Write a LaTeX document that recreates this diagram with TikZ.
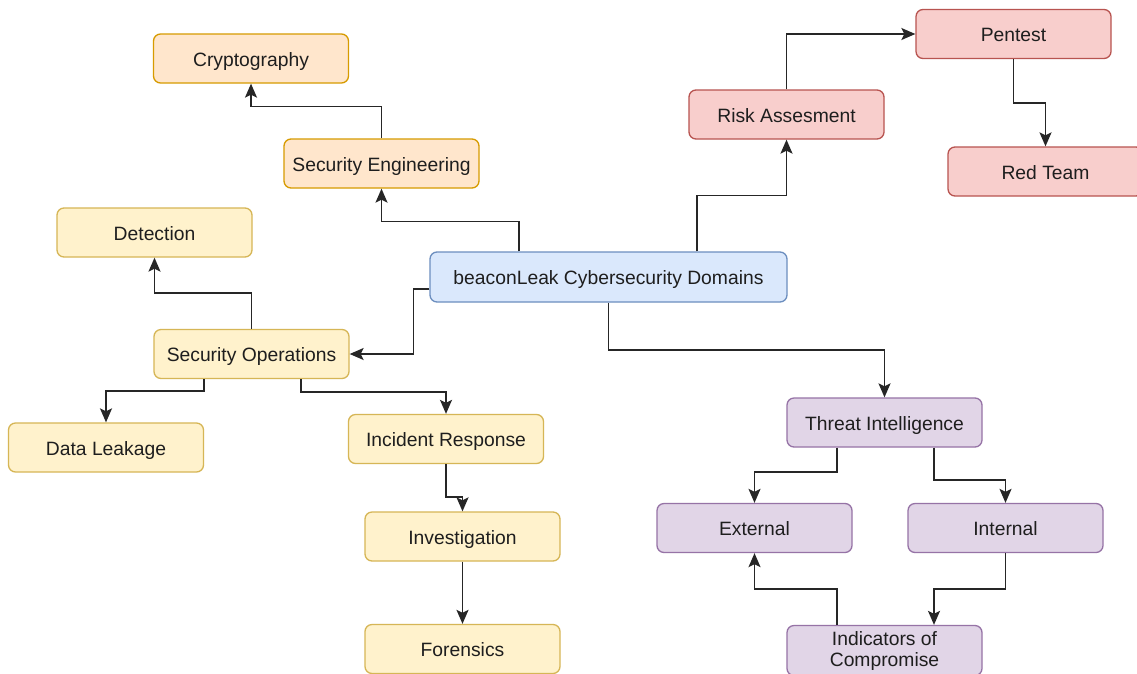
\documentclass[tikz,border=0pt]{standalone}
\usepackage{fontspec}
\setmainfont{Liberation Sans}
\usetikzlibrary{arrows.meta}
\definecolor{txt}{HTML}{1E1E1E}
\definecolor{wire}{HTML}{262626}
\definecolor{orfill}{HTML}{FFE6CC}\definecolor{ordraw}{HTML}{D79B00}
\definecolor{yefill}{HTML}{FFF2CC}\definecolor{yedraw}{HTML}{D6B656}
\definecolor{refill}{HTML}{F8CECC}\definecolor{redraw}{HTML}{B85450}
\definecolor{blfill}{HTML}{DAE8FC}\definecolor{bldraw}{HTML}{6C8EBF}
\definecolor{pufill}{HTML}{E1D5E7}\definecolor{pudraw}{HTML}{9673A6}
\tikzset{
  box/.style={draw, rounded corners=7pt, line width=1.3pt, minimum width=195pt,
    minimum height=49pt, inner sep=0pt, text=txt, align=center,
    text height=15.5pt, text depth=0pt,
    font=\fontsize{19.3}{21}\selectfont},
  orbox/.style={box, fill=orfill, draw=ordraw},
  yebox/.style={box, fill=yefill, draw=yedraw},
  rebox/.style={box, fill=refill, draw=redraw},
  blbox/.style={box, fill=blfill, draw=bldraw},
  pubox/.style={box, fill=pufill, draw=pudraw},
  arr/.style={-{Stealth[length=14pt,width=12pt,inset=3pt]}, line width=1.7pt, wire}
}
\begin{document}
\begin{tikzpicture}[x=1pt,y=-1pt]
\clip (0,0) rectangle (1137,673);
\fill[white] (0,0) rectangle (1137,673);

% nodes
\node[orbox] (crypto)   at (251,58.5)    {Cryptography};
\node[orbox] (seceng)   at (381.5,163.5) {Security Engineering};
\node[rebox] (pentest)  at (1013.5,34)   {Pentest};
\node[rebox] (risk)     at (786.5,114.5) {Risk Assesment};
\node[rebox] (redteam)  at (1045.5,171.5) {Red Team};
\node[blbox, minimum width=357pt, minimum height=50pt] (main) at (608.5,277) {beaconLeak Cybersecurity Domains};
\node[yebox] (detect)   at (154.5,232.5) {Detection};
\node[yebox] (secops)   at (251.5,354)   {Security Operations};
\node[yebox] (dataleak) at (106,447.5)   {Data Leakage};
\node[yebox] (incident) at (446,439)     {Incident Response};
\node[yebox] (invest)   at (462.5,536.5) {Investigation};
\node[yebox] (forensic) at (462.5,649)   {Forensics};
\node[pubox] (threat)   at (884.5,422.5) {Threat Intelligence};
\node[pubox] (external) at (754.5,528)   {External};
\node[pubox] (internal) at (1005.5,528)  {Internal};
\node[pubox, minimum height=50pt, text height=, text depth=] (ioc) at (884.5,650.5) {Indicators of\\Compromise};

% connectors
\draw[arr] ([xshift=-89.5pt]main.north) -- ++(0,-30) -| (seceng.south);
\draw[arr] (seceng.north) -- ++(0,-32) -| (crypto.south);
\draw[arr] ([xshift=88.5pt]main.north) -- ++(0,-56) -| (risk.south);
\draw[arr] (risk.north) |- (pentest.west);
\draw[arr] (pentest.south) -- ++(0,44) -| (redteam.north);
\draw[arr] ([yshift=-12pt]main.west) -- ++(-16,0) |- (secops.east);
\draw[arr] (secops.north) -- ++(0,-36) -| (detect.south);
\draw[arr] ([xshift=-47.5pt]secops.south) -- ++(0,12) -| (dataleak.north);
\draw[arr] ([xshift=49.5pt]secops.south) -- ++(0,13) -| (incident.north);
\draw[arr] (incident.south) -- ++(0,33) -| (invest.north);
\draw[arr] (invest.south) -- (forensic.north);
\draw[arr] (main.south) -- ++(0,47) -| (threat.north);
\draw[arr] ([xshift=-47.5pt]threat.south) -- ++(0,24) -| (external.north);
\draw[arr] ([xshift=49.5pt]threat.south) -- ++(0,32) -| (internal.north);
\draw[arr] (internal.south) -- ++(0,36) -| ([xshift=49.5pt]ioc.north);
\draw[arr] ([xshift=-47.5pt]ioc.north) -- ++(0,-36) -| (external.south);
\end{tikzpicture}
\end{document}
